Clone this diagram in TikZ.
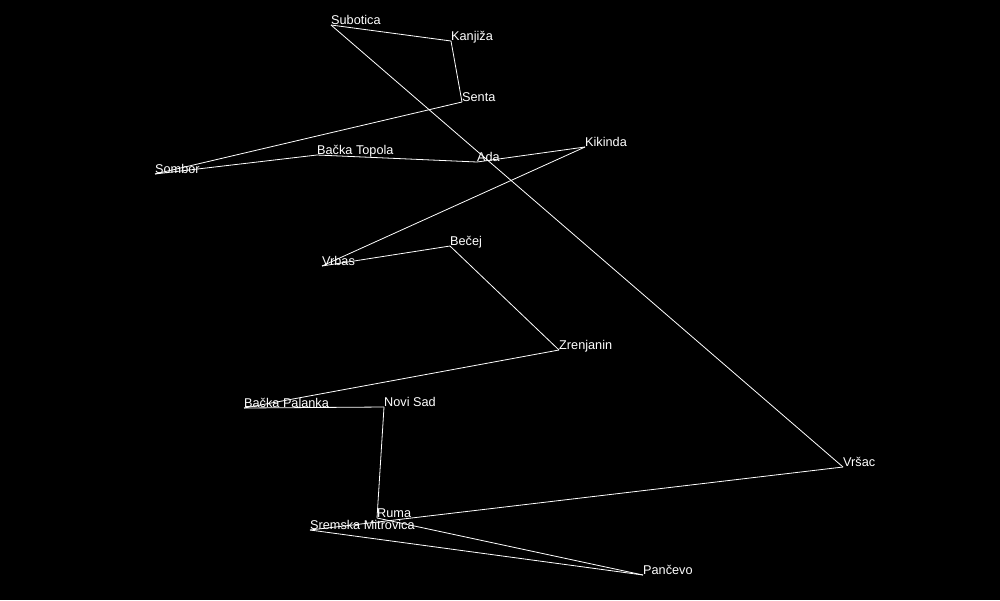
\documentclass[tikz,border=0pt]{standalone}
\usepackage{fontspec}
\setmainfont{Liberation Sans}
\tikzset{
	city/.style={anchor=base west, inner sep=0pt, yshift=1pt, text=white, font=\fontsize{12.7}{14}\selectfont},
	road/.style={draw=white, line width=0.8pt}
}
\begin{document}
\begin{tikzpicture}[x=1pt, y=-1pt]
		\fill[black] (0,0) rectangle (1000,600);
		\useasboundingbox (0,0) rectangle (1000,600);

		\coordinate (sub) at (331, 25);
		\coordinate (kan) at (451, 41);
		\coordinate (sen) at (462,102);
		\coordinate (som) at (155,174);
		\coordinate (bto) at (317,155);
		\coordinate (ada) at (477,162);
		\coordinate (kik) at (585,147);
		\coordinate (vrb) at (322,266);
		\coordinate (bec) at (450,246);
		\coordinate (zre) at (559,350);
		\coordinate (bpa) at (244,408);
		\coordinate (nsa) at (384,407);
		\coordinate (rum) at (377,518);
		\coordinate (pan) at (643,575);
		\coordinate (smi) at (310,530);
		\coordinate (vrs) at (843,467);

		\draw[road] (sub) -- (kan);
		\draw[road] (kan) -- (sen);
		\draw[road] (sen) -- (som);
		\draw[road] (som) -- (bto);
		\draw[road] (bto) -- (ada);
		\draw[road] (ada) -- (kik);
		\draw[road] (kik) -- (vrb);
		\draw[road] (vrb) -- (bec);
		\draw[road] (bec) -- (zre);
		\draw[road] (zre) -- (bpa);
		\draw[road] (bpa) -- (nsa);
		\draw[road] (nsa) -- (rum);
		\draw[road] (rum) -- (pan);
		\draw[road] (pan) -- (smi);
		\draw[road] (smi) -- (vrs);
		\draw[road] (vrs) -- (sub);

		\node[city] (subL) at (sub) {Subotica};
		\node[city] (kanL) at (kan) {Kanjiža};
		\node[city] (senL) at (sen) {Senta};
		\node[city] (somL) at (som) {Sombor};
		\node[city] (btoL) at (bto) {Bačka Topola};
		\node[city] (adaL) at (ada) {Ada};
		\node[city] (kikL) at (kik) {Kikinda};
		\node[city] (vrbL) at (vrb) {Vrbas};
		\node[city] (becL) at (bec) {Bečej};
		\node[city] (zreL) at (zre) {Zrenjanin};
		\node[city] (bpaL) at (bpa) {Bačka Palanka};
		\node[city] (nsaL) at (nsa) {Novi Sad};
		\node[city] (rumL) at (rum) {Ruma};
		\node[city] (panL) at (pan) {Pančevo};
		\node[city] (smiL) at (smi) {Sremska Mitrovica};
		\node[city] (vrsL) at (vrs) {Vršac};
	\end{tikzpicture}
\end{document}
